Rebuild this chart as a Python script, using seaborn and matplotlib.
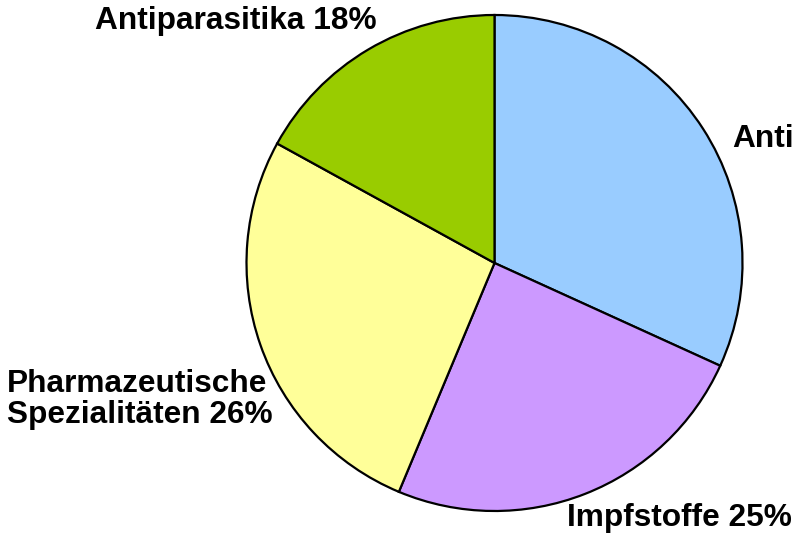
import matplotlib
matplotlib.use("Agg")
import matplotlib.pyplot as plt
import seaborn as sns

categories = ["Anti", "Impfstoffe", "Pharmazeutische\nSpezialitäten", "Antiparasitika"]
pct_labels = ["", "25%", "26%", "18%"]
# slice sizes as drawn in the picture (percent)
values = [31.8, 24.5, 26.7, 17.0]
colors = ["#99CCFF", "#CC99FF", "#FFFF99", "#99CC00"]

sns.set_theme(style="white")
plt.rcParams['font.family'] = ['Liberation Sans', 'DejaVu Sans']

W, H = 794, 536
fig = plt.figure(figsize=(W / 100, H / 100), dpi=100)
ax = fig.add_axes([0, 0, 1, 1])

cx, cy, r = 494.5, H - 263, 248
ax.pie(values, colors=colors, startangle=90, counterclock=False,
       center=(cx, cy), radius=r, frame=True,
       wedgeprops=dict(edgecolor="black", linewidth=1.6))
ax.set_xlim(0, W)
ax.set_ylim(0, H)
ax.set_aspect("equal")
ax.axis("off")

fs = 22.8
labels = [(c + " " + p).strip() for c, p in zip(categories, pct_labels)]
# (left x, baseline y) in pixels from top-left
positions = [(732, 147), (567, 526), (7, 392), (95, 29.5)]
line_gap = 31
for lab, (x, y) in zip(labels, positions):
    for i, line in enumerate(lab.split("\n")):
        ax.text(x, H - (y + i * line_gap), line, fontsize=fs, fontweight="bold",
                color="black", ha="left", va="baseline")

fig.savefig("out.png", dpi=100)
